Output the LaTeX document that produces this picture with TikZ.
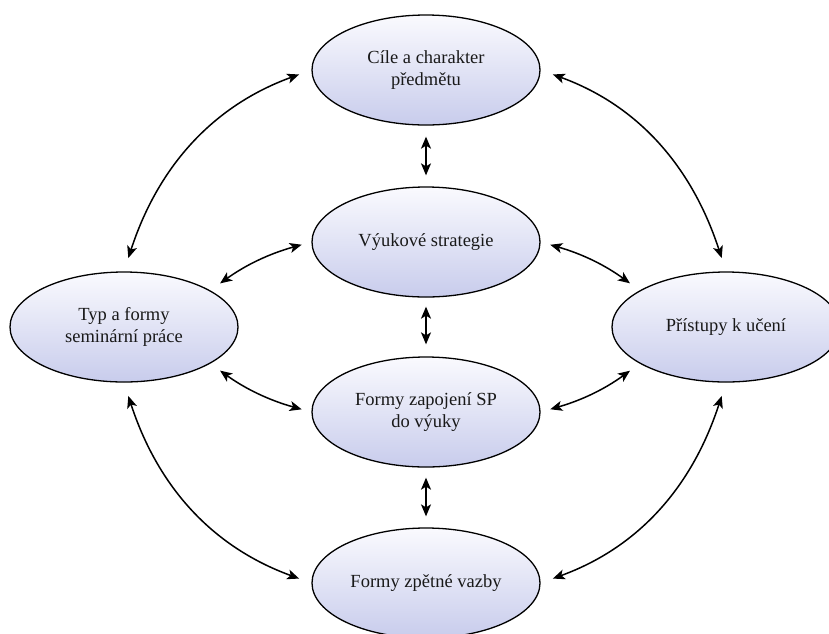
\documentclass[tikz,border=0pt]{standalone}
\usepackage{fontspec}
\setmainfont{Liberation Serif}
\usetikzlibrary{shapes.geometric,arrows.meta}
\definecolor{elltop}{RGB}{250,250,254}
\definecolor{ellbot}{RGB}{200,204,236}
\definecolor{txt}{RGB}{25,25,25}
\tikzset{
  ell/.style={ellipse, draw=black, line width=1.3pt, minimum width=228pt, minimum height=110pt,
    inner sep=0pt, top color=elltop, bottom color=ellbot, align=center, text=txt,
    font=\fontsize{18.5pt}{22pt}\selectfont},
  arr/.style={line width=1.5pt, {Stealth[length=12pt,width=10pt,inset=3pt]}-{Stealth[length=12pt,width=10pt,inset=3pt]}},
}
\begin{document}
\begin{tikzpicture}[x=1pt,y=1pt]
\useasboundingbox (0,0) rectangle (829,-633);
\clip (0,0) rectangle (829,-633);
\node[ell] (top) at (426,-70) {Cíle a charakter\\předmětu};
\node[ell] (mid1) at (426,-242) {Výukové strategie};
\node[ell] (mid2) at (426,-412) {Formy zapojení SP\\do výuky};
\node[ell] (bot) at (426,-583) {Formy zpětné vazby};
\node[ell] (left) at (124,-327) {Typ a formy\\seminární práce};
\node[ell] (right) at (726,-327) {Přístupy k učení};
% outer curved arrows
\draw[arr, shorten <=14pt, shorten >=13pt] (left.north) to[out=72,in=200] (top.west);
\draw[arr, shorten <=13pt, shorten >=14pt] (top.east) to[out=-20,in=108] (right.north);
\draw[arr, shorten <=14pt, shorten >=13pt] (left.south) to[out=-72,in=160] (bot.west);
\draw[arr, shorten <=13pt, shorten >=14pt] (bot.east) to[out=20,in=-108] (right.south);
% vertical arrows
\draw[arr, shorten <=11pt, shorten >=11pt] (top.south) -- (mid1.north);
\draw[arr, shorten <=9pt, shorten >=12pt] (mid1.south) -- (mid2.north);
\draw[arr, shorten <=10pt, shorten >=11pt] (mid2.south) -- (bot.north);
% short diagonal arrows
\draw[arr, shorten <=12pt, shorten >=10pt] (left.23) to[bend left=10] (mid1.west);
\draw[arr, shorten <=12pt, shorten >=10pt] (left.-23) to[bend right=10] (mid2.west);
\draw[arr, shorten <=10pt, shorten >=12pt] (mid1.east) to[bend left=10] (right.157);
\draw[arr, shorten <=10pt, shorten >=12pt] (mid2.east) to[bend right=10] (right.203);
\end{tikzpicture}
\end{document}
